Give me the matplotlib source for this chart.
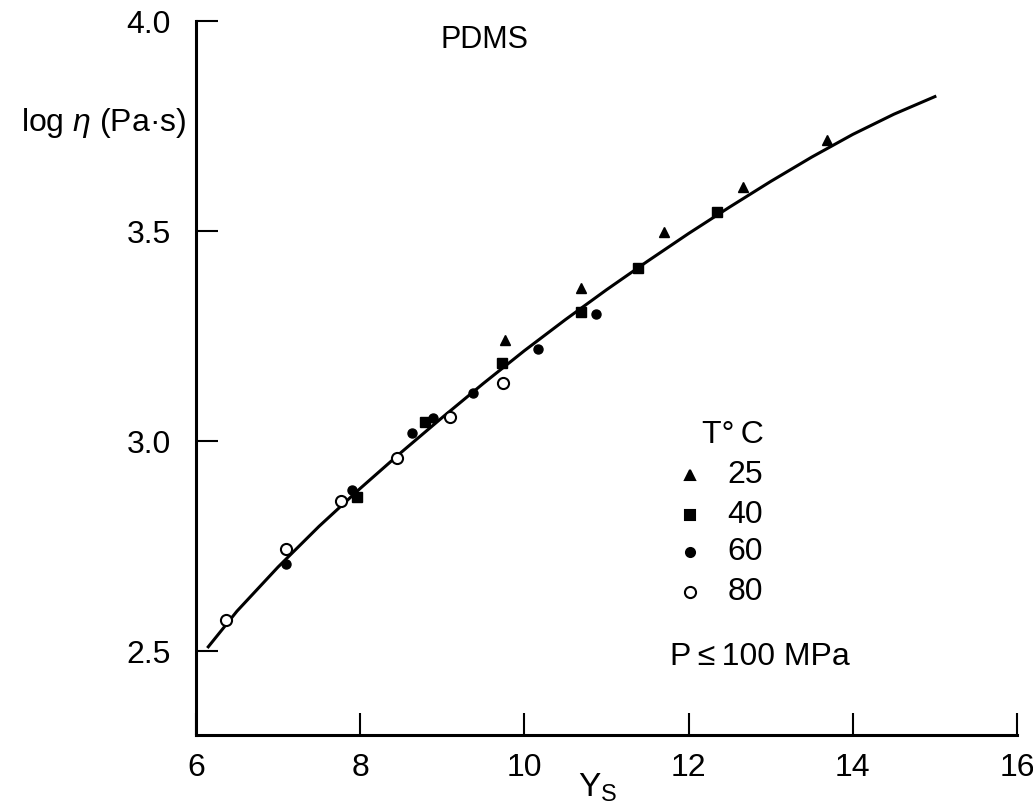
import matplotlib
matplotlib.use('Agg')
from matplotlib import pyplot as plt

plt.rcParams['font.family'] = ['Liberation Sans', 'DejaVu Sans']
plt.rcParams['mathtext.fontset'] = 'custom'
plt.rcParams['mathtext.rm'] = 'Liberation Sans'
plt.rcParams['mathtext.it'] = 'Liberation Sans:italic'

# curve
curva_x = [6.15, 6.5, 7.0, 7.5, 8.0, 8.5, 9.0, 9.5, 10.0, 10.5, 11.0, 11.5,
           12.0, 12.5, 13.0, 13.5, 14.0, 14.5, 15.0]
curva_y = [2.51, 2.595, 2.70, 2.797, 2.887, 2.973, 3.056, 3.137, 3.215, 3.289,
           3.36, 3.428, 3.494, 3.557, 3.618, 3.676, 3.73, 3.778, 3.82]

# puntos por temperatura
t25_x = [9.76, 10.69, 11.70, 12.66, 13.69]
t25_y = [3.240, 3.364, 3.498, 3.605, 3.717]
t40_x = [7.96, 8.79, 9.73, 10.69, 11.38, 12.35]
t40_y = [2.867, 3.045, 3.186, 3.307, 3.412, 3.545]
t60_x = [7.10, 7.90, 8.63, 8.89, 9.37, 10.17, 10.87]
t60_y = [2.707, 2.883, 3.019, 3.055, 3.114, 3.219, 3.302]
t80_x = [6.37, 7.10, 7.77, 8.45, 9.10, 9.74]
t80_y = [2.574, 2.743, 2.857, 2.960, 3.057, 3.138]

x_ticks = [6, 8, 10, 12, 14, 16]
y_ticks = [2.5, 3.0, 3.5, 4.0]
leyenda = ['25', '40', '60', '80']

fig = plt.figure(figsize=(10.33, 8.11), dpi=100)
ax = fig.add_axes([0.1897, 0.0937, 0.7948, 0.8804])

ax.plot(curva_x, curva_y, color='black', lw=2.2, zorder=2)
ax.plot(t25_x, t25_y, '^', color='black', ms=7, ls='none', zorder=3)
ax.plot(t40_x, t40_y, 's', color='black', ms=6.5, ls='none', zorder=3)
ax.plot(t60_x, t60_y, 'o', color='black', ms=6.5, ls='none', zorder=3)
ax.plot(t80_x, t80_y, 'o', mfc='white', mec='black', mew=1.5, ms=8,
        ls='none', zorder=3)

ax.set_xlim(6, 16)
ax.set_ylim(2.3, 4.0)
ax.set_xticks(x_ticks)
ax.set_yticks(y_ticks)
ax.set_yticklabels([f'{v:.1f}' for v in y_ticks])
ax.spines['top'].set_visible(False)
ax.spines['right'].set_visible(False)
ax.spines['left'].set_linewidth(2.2)
ax.spines['bottom'].set_linewidth(2.2)
ax.tick_params(direction='in', length=16, width=1.5, labelsize=23)
ax.tick_params(axis='x', pad=13)
ax.tick_params(axis='y', pad=18)

fig.text(0.02, 1 - 131 / 811, r'log $\it{\eta}$ (Pa·s)', fontsize=23,
         ha='left', va='baseline')
fig.text(598 / 1033, 1 - 788 / 811, r'Y$_\mathregular{S}$', fontsize=24,
         ha='center', va='center')

ax.text(9.52, 3.955, 'PDMS', fontsize=22, ha='center', va='center')

# leyenda a mano
ax.text(12.16, 3.014, 'T\u00b0\u2009C', fontsize=23, ha='left', va='center')
ley_y = [2.919, 2.824, 2.736, 2.640]
marcas = [('^', 'black', 7), ('s', 'black', 6.5), ('o', 'black', 6.5),
          ('o', 'white', 8)]
for etiqueta, yy, (m, fc, s) in zip(leyenda, ley_y, marcas):
    ax.plot([12.02], [yy], m, mfc=fc, mec='black', mew=1.5, ms=s,
            clip_on=False)
    ax.text(12.47, yy, etiqueta, fontsize=23, ha='left', va='center')
ax.text(11.77, 2.486, 'P\u2009≤\u2009100 MPa', fontsize=23, ha='left',
        va='center')

fig.savefig('out.png', dpi=100)
